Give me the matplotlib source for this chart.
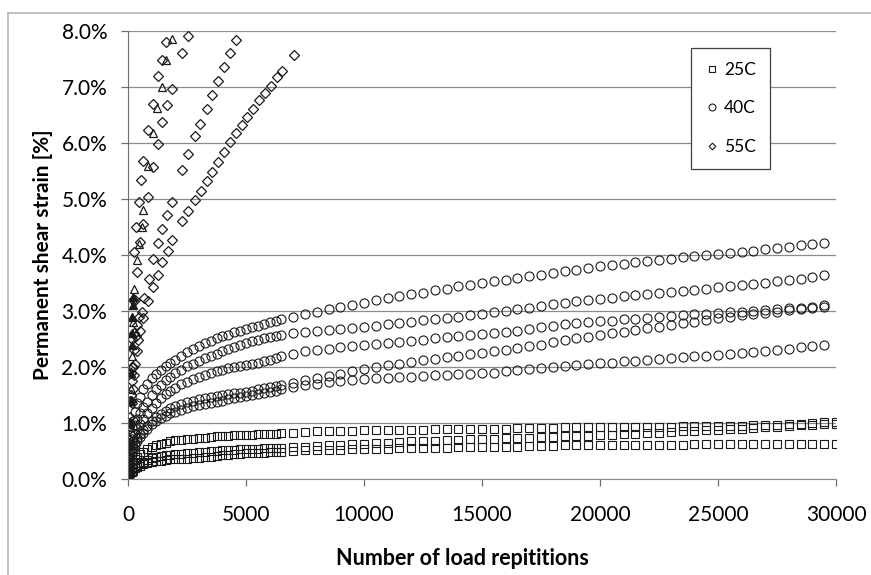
import matplotlib
matplotlib.use("Agg")
import matplotlib.pyplot as plt
from matplotlib.ticker import PercentFormatter, MultipleLocator
from matplotlib.lines import Line2D

plt.rcParams['font.family'] = ['Lato', 'DejaVu Sans']

# ---- data (strain in %) ----
# 40C and 25C tests share the same read-out cycles
cycles = [10, 30, 60, 100, 150, 200, 300, 400, 500, 650, 800, 1000, 1200, 1400, 1600, 1800,
          2000, 2250, 2500, 2750, 3000, 3250, 3500, 3750, 4000, 4250, 4500, 4750, 5000,
          5250, 5500, 5750, 6000, 6250, 6500,
          7000, 7500, 8000, 8500, 9000, 9500, 10000, 10500, 11000, 11500, 12000, 12500,
          13000, 13500, 14000, 14500, 15000, 15500, 16000, 16500, 17000, 17500, 18000,
          18500, 19000, 19500, 20000, 20500, 21000, 21500, 22000, 22500, 23000, 23500,
          24000, 24500, 25000, 25500, 26000, 26500, 27000, 27500, 28000, 28500, 29000, 29500]
cycles_25 = cycles + [30000]

c25_a = [0.05, 0.10, 0.15, 0.20, 0.25, 0.29, 0.35, 0.40, 0.44, 0.49, 0.53, 0.57, 0.60, 0.63, 0.65, 0.67,
         0.69, 0.70, 0.71, 0.72, 0.73, 0.74, 0.75, 0.76, 0.77, 0.77, 0.78, 0.78, 0.79,
         0.79, 0.80, 0.80, 0.81, 0.81, 0.82,
         0.83, 0.84, 0.85, 0.85, 0.86, 0.86, 0.87, 0.87, 0.87, 0.88, 0.88, 0.88,
         0.89, 0.89, 0.89, 0.90, 0.90, 0.90, 0.90, 0.91, 0.91, 0.91, 0.91,
         0.92, 0.92, 0.92, 0.92, 0.92, 0.93, 0.93, 0.93, 0.93, 0.93, 0.94,
         0.94, 0.94, 0.94, 0.95, 0.95, 0.96, 0.96, 0.97, 0.98, 0.99, 1.00, 1.01, 1.02]
c25_b = [0.03, 0.06, 0.09, 0.12, 0.15, 0.18, 0.22, 0.25, 0.28, 0.31, 0.34, 0.37, 0.39, 0.41, 0.42, 0.43,
         0.44, 0.45, 0.46, 0.47, 0.48, 0.49, 0.50, 0.50, 0.51, 0.52, 0.52, 0.53, 0.53,
         0.54, 0.54, 0.55, 0.55, 0.56, 0.56,
         0.57, 0.58, 0.59, 0.60, 0.61, 0.62, 0.63, 0.64, 0.65, 0.66, 0.67, 0.67,
         0.68, 0.69, 0.70, 0.71, 0.72, 0.72, 0.73, 0.74, 0.74, 0.75, 0.75,
         0.76, 0.77, 0.77, 0.78, 0.79, 0.80, 0.81, 0.82, 0.83, 0.84, 0.85,
         0.86, 0.87, 0.88, 0.89, 0.90, 0.91, 0.92, 0.93, 0.95, 0.96, 0.97, 0.98, 0.99]
c25_c = [0.02, 0.04, 0.07, 0.10, 0.13, 0.15, 0.19, 0.22, 0.24, 0.27, 0.29, 0.31, 0.32, 0.33, 0.34, 0.35,
         0.35, 0.36, 0.36, 0.37, 0.38, 0.39, 0.40, 0.41, 0.42, 0.43, 0.44, 0.45, 0.46,
         0.46, 0.47, 0.47, 0.48, 0.48, 0.49,
         0.50, 0.51, 0.51, 0.52, 0.52, 0.53, 0.53, 0.54, 0.54, 0.55, 0.55, 0.55,
         0.56, 0.56, 0.57, 0.57, 0.57, 0.58, 0.58, 0.58, 0.59, 0.59, 0.59,
         0.60, 0.60, 0.60, 0.60, 0.61, 0.61, 0.61, 0.61, 0.61, 0.61, 0.61,
         0.62, 0.62, 0.62, 0.62, 0.62, 0.62, 0.62, 0.62, 0.62, 0.62, 0.62, 0.62, 0.62]

c40_a = [0.20, 0.40, 0.60, 0.78, 0.92, 1.03, 1.20, 1.35, 1.47, 1.60, 1.70, 1.80, 1.88, 1.95, 2.01, 2.07,
         2.13, 2.20, 2.27, 2.33, 2.38, 2.43, 2.47, 2.51, 2.55, 2.58, 2.62, 2.65, 2.68,
         2.71, 2.74, 2.77, 2.80, 2.82, 2.85,
         2.90, 2.95, 2.99, 3.03, 3.07, 3.11, 3.15, 3.19, 3.23, 3.26, 3.30, 3.33,
         3.37, 3.40, 3.44, 3.47, 3.50, 3.53, 3.56, 3.59, 3.62, 3.65, 3.68,
         3.71, 3.74, 3.77, 3.80, 3.82, 3.84, 3.87, 3.89, 3.91, 3.93, 3.96,
         3.98, 4.00, 4.02, 4.04, 4.06, 4.08, 4.10, 4.13, 4.15, 4.17, 4.19, 4.22]
c40_b = [0.15, 0.30, 0.45, 0.60, 0.72, 0.82, 0.97, 1.08, 1.17, 1.28, 1.38, 1.50, 1.60, 1.68, 1.76, 1.83,
         1.89, 1.95, 2.01, 2.06, 2.11, 2.16, 2.20, 2.24, 2.28, 2.32, 2.36, 2.39, 2.43,
         2.46, 2.49, 2.51, 2.53, 2.55, 2.57,
         2.60, 2.62, 2.64, 2.66, 2.68, 2.70, 2.72, 2.74, 2.77, 2.79, 2.81, 2.84,
         2.86, 2.88, 2.90, 2.93, 2.95, 2.98, 3.00, 3.03, 3.06, 3.09, 3.12,
         3.15, 3.17, 3.20, 3.22, 3.24, 3.26, 3.28, 3.30, 3.32, 3.34, 3.36,
         3.38, 3.40, 3.42, 3.44, 3.46, 3.48, 3.50, 3.53, 3.56, 3.58, 3.61, 3.64]
c40_c = [0.12, 0.25, 0.38, 0.50, 0.60, 0.68, 0.80, 0.90, 0.98, 1.08, 1.17, 1.27, 1.36, 1.44, 1.51, 1.57,
         1.63, 1.69, 1.74, 1.78, 1.82, 1.86, 1.89, 1.92, 1.95, 1.98, 2.00, 2.02, 2.04,
         2.06, 2.08, 2.10, 2.13, 2.16, 2.19,
         2.24, 2.28, 2.31, 2.33, 2.35, 2.37, 2.39, 2.41, 2.43, 2.45, 2.47, 2.49,
         2.51, 2.53, 2.55, 2.57, 2.59, 2.61, 2.63, 2.65, 2.68, 2.71, 2.74,
         2.77, 2.79, 2.80, 2.82, 2.83, 2.85, 2.86, 2.88, 2.89, 2.91, 2.92,
         2.94, 2.95, 2.96, 2.98, 2.99, 3.00, 3.02, 3.03, 3.05, 3.06, 3.08, 3.10]
c40_d = [0.10, 0.20, 0.30, 0.40, 0.48, 0.55, 0.65, 0.73, 0.80, 0.88, 0.95, 1.03, 1.10, 1.16, 1.21, 1.26,
         1.30, 1.34, 1.37, 1.40, 1.42, 1.44, 1.46, 1.48, 1.50, 1.51, 1.53, 1.54, 1.56,
         1.58, 1.60, 1.62, 1.64, 1.66, 1.68,
         1.72, 1.76, 1.80, 1.84, 1.88, 1.92, 1.96, 2.00, 2.03, 2.06, 2.09, 2.12,
         2.15, 2.18, 2.20, 2.23, 2.25, 2.28, 2.31, 2.34, 2.37, 2.40, 2.44,
         2.48, 2.51, 2.54, 2.57, 2.60, 2.63, 2.66, 2.69, 2.72, 2.75, 2.78,
         2.81, 2.84, 2.87, 2.90, 2.93, 2.95, 2.97, 2.99, 3.01, 3.03, 3.05, 3.07]
c40_e = [0.08, 0.17, 0.26, 0.35, 0.43, 0.50, 0.60, 0.68, 0.75, 0.83, 0.90, 0.98, 1.04, 1.09, 1.13, 1.17,
         1.20, 1.24, 1.27, 1.30, 1.32, 1.34, 1.36, 1.38, 1.40, 1.42, 1.44, 1.46, 1.48,
         1.50, 1.52, 1.54, 1.56, 1.58, 1.60,
         1.64, 1.67, 1.70, 1.73, 1.75, 1.77, 1.79, 1.80, 1.81, 1.82, 1.83, 1.84,
         1.85, 1.86, 1.87, 1.88, 1.89, 1.90, 1.92, 1.94, 1.96, 1.98, 2.00,
         2.02, 2.04, 2.05, 2.07, 2.08, 2.10, 2.11, 2.13, 2.14, 2.16, 2.17,
         2.19, 2.20, 2.22, 2.23, 2.25, 2.27, 2.29, 2.31, 2.33, 2.35, 2.37, 2.39]

# 55C tests, each with its own read-out cycles
c55_a_x = [20, 60, 100, 150, 200, 250, 300, 370, 440, 510, 650, 860, 1070, 1290, 1460, 1680, 1870,
           2300, 2550, 2840, 3080, 3330, 3570, 3830, 4070, 4320, 4560, 4820, 5060, 5310, 5550,
           5805, 6040, 6300, 6540, 7050]
c55_a = [0.30, 0.70, 1.00, 1.35, 1.60, 1.85, 2.05, 2.28, 2.48, 2.65, 2.87, 3.17, 3.42, 3.65, 3.87, 4.08, 4.27,
         4.61, 4.79, 4.98, 5.15, 5.33, 5.49, 5.66, 5.84, 6.01, 6.17, 6.32, 6.47, 6.61, 6.77,
         6.89, 7.02, 7.17, 7.29, 7.57]
c55_b_x = [20, 50, 80, 120, 160, 200, 260, 320, 400, 480, 580, 680, 890, 1070, 1280, 1450, 1670, 1850,
           2300, 2550, 2840, 3050, 3330, 3570, 3830, 4070, 4320, 4560]
c55_b = [0.30, 0.65, 1.00, 1.40, 1.75, 2.00, 2.30, 2.55, 2.75, 2.90, 2.99, 3.23, 3.57, 3.93, 4.22, 4.46, 4.71, 4.95,
         5.51, 5.80, 6.12, 6.34, 6.60, 6.85, 7.10, 7.36, 7.60, 7.84]
c55_c_x = [20, 50, 80, 110, 150, 200, 270, 340, 480, 550, 650, 860, 1050, 1270, 1420, 1630]
c55_c = [0.40, 0.90, 1.40, 1.90, 2.50, 3.20, 4.06, 4.50, 4.94, 5.34, 5.68, 6.23, 6.70, 7.20, 7.48, 7.80]
c55_d_x = [20, 50, 90, 130, 180, 240, 300, 370, 510, 650, 860, 1070, 1260, 1460, 1650, 1880, 2300, 2550]
c55_d = [0.30, 0.70, 1.10, 1.50, 2.00, 2.60, 3.20, 3.70, 4.24, 4.55, 5.04, 5.58, 5.99, 6.38, 6.68, 6.96, 7.60, 7.91]
c55_e_x = [30, 70, 110, 150, 200, 260, 370, 480, 580, 650, 860, 1050, 1240, 1460, 1630, 1850]
c55_e = [0.40, 1.00, 1.60, 2.20, 2.80, 3.40, 3.91, 4.20, 4.50, 4.80, 5.59, 6.17, 6.62, 7.00, 7.48, 7.85]
c55_f_x = [30, 60, 90, 110, 130, 150, 170, 190, 210, 230]
c55_f = [0.20, 0.60, 1.00, 1.40, 1.90, 2.40, 2.60, 2.90, 3.10, 3.25]

xticks = [0, 5000, 10000, 15000, 20000, 25000, 30000]

# ---- plot ----
fig = plt.figure(figsize=(8.71, 5.75), dpi=100)
ax = fig.add_axes([128/871, 96/575, 708/871, 448/575])

ec = '#1a1a1a'
sq = dict(marker='s', ms=5.8, mfc='none', mec=ec, mew=0.8, ls='none')
ci = dict(marker='o', ms=6.5, mfc='none', mec=ec, mew=0.8, ls='none')
di = dict(marker='D', ms=4.6, mfc='none', mec=ec, mew=0.9, ls='none')
tr = dict(marker='^', ms=6.0, mfc='none', mec=ec, mew=0.9, ls='none')

for y in (c25_a, c25_b, c25_c):
    ax.plot(cycles_25, [v/100 for v in y], **sq)
for y in (c40_a, c40_b, c40_c, c40_d, c40_e):
    ax.plot(cycles, [v/100 for v in y], **ci)
for x, y in ((c55_a_x, c55_a), (c55_b_x, c55_b), (c55_c_x, c55_c), (c55_d_x, c55_d)):
    ax.plot(x, [v/100 for v in y], **di)
ax.plot(c55_e_x, [v/100 for v in c55_e], **tr)
ax.plot(c55_f_x, [v/100 for v in c55_f], marker='^', ms=6, mfc=ec, mec=ec, ls='none')

ax.set_xlim(0, 30000)
ax.set_ylim(0, 0.08)
ax.set_xticks(xticks)
ax.yaxis.set_major_locator(MultipleLocator(0.01))
ax.yaxis.set_major_formatter(PercentFormatter(1.0, decimals=1))
ax.grid(axis='y', color='#8c8c8c', lw=0.9)
ax.set_axisbelow(True)
for s in ('top', 'right'):
    ax.spines[s].set_visible(False)
ax.spines['left'].set_color('#6e6e6e')
ax.spines['bottom'].set_color('#8c8c8c')
ax.tick_params(axis='both', direction='out', length=5, width=0.9, colors='#6e6e6e',
               labelcolor='black', labelsize=15)
ax.tick_params(axis='y', pad=10)
ax.tick_params(axis='x', pad=14)

ax.set_xlabel('Number of load repititions', fontsize=15.5, fontweight='bold', labelpad=8)
ax.xaxis.set_label_coords((462 - 128) / 708, -0.155)
ax.set_ylabel('Permanent shear strain [%]', fontsize=15, fontweight='bold', labelpad=6)

handles = [Line2D([], [], marker='s', ms=4.5, mfc='none', mec=ec, mew=0.8, ls='none'),
           Line2D([], [], marker='o', ms=5, mfc='none', mec=ec, mew=0.8, ls='none'),
           Line2D([], [], marker='D', ms=3.4, mfc='none', mec=ec, mew=0.8, ls='none')]
leg = ax.legend(handles, ['25C', '40C', '55C'], loc='upper left', bbox_to_anchor=(0.795, 0.962),
                fontsize=12.5, labelspacing=1.3, handlelength=0.8, handletextpad=0.3,
                borderpad=0.8, borderaxespad=0, fancybox=False, framealpha=1)
leg.get_frame().set_edgecolor('#404040')
leg.get_frame().set_linewidth(0.9)

# chart-area border (top and left edges visible)
fig.add_artist(Line2D([8/871, 1], [1 - 13/575, 1 - 13/575], color='#b4b4b4', lw=1.2))
fig.add_artist(Line2D([8/871, 8/871], [0, 1 - 13/575], color='#b4b4b4', lw=1.2))

fig.savefig('out.png', dpi=100)
